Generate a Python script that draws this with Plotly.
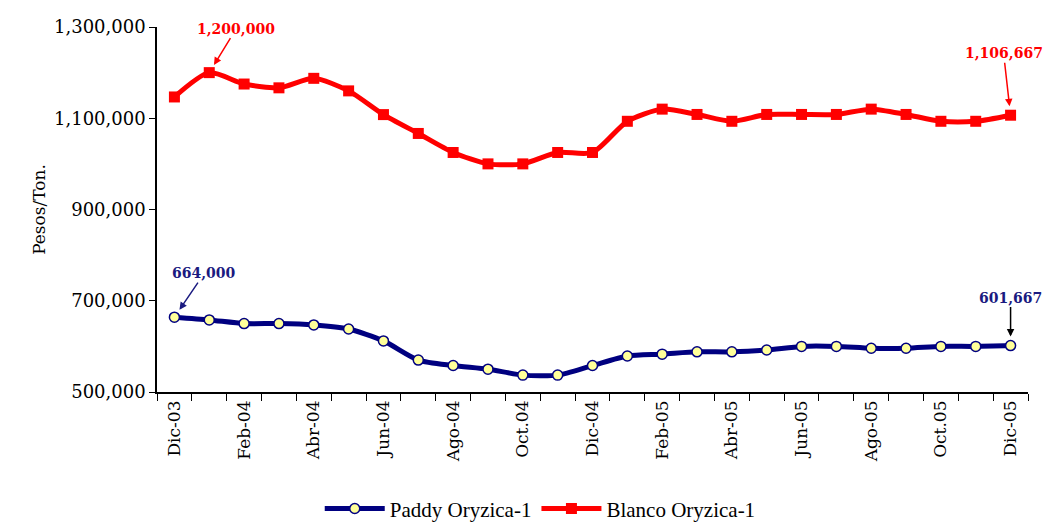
import plotly.graph_objects as go

# Monthly price series, Dic-03 .. Dic-05
months = ["Dic-03", "Ene-04", "Feb-04", "Mar-04", "Abr-04", "May-04", "Jun-04",
          "Jul-04", "Ago-04", "Sep-04", "Oct.04", "Nov-04", "Dic-04", "Ene-05",
          "Feb-05", "Mar-05", "Abr-05", "May-05", "Jun-05", "Jul-05", "Ago-05",
          "Sep-05", "Oct.05", "Nov-05", "Dic-05"]
paddy = [664000, 658000, 650000, 650000, 647000, 638000, 612000, 570000, 558000,
         550000, 537000, 537000, 558000, 579000, 583000, 588000, 588000, 592000,
         600000, 600000, 596000, 596000, 600000, 600000, 601667]
blanco = [1146667, 1200000, 1175000, 1166667, 1187500, 1160000, 1108000, 1066667,
          1025000, 1000000, 1000000, 1025000, 1025000, 1093333, 1120000, 1108333,
          1093333, 1108333, 1108333, 1108333, 1120000, 1108333, 1093333, 1093333,
          1106667]
y_ticks = [500000, 700000, 900000, 1100000, 1300000]

idx = list(range(len(months)))
serif = "DejaVu Serif"

fig = go.Figure()
fig.add_trace(go.Scatter(
    x=idx, y=paddy, name="Paddy Oryzica-1", mode="lines+markers",
    line=dict(color="#000080", width=5, shape="spline", smoothing=0.7),
    marker=dict(symbol="circle", size=10, color="#FFFF99",
                line=dict(color="#000080", width=1.5)),
))
fig.add_trace(go.Scatter(
    x=idx, y=blanco, name="Blanco Oryzica-1", mode="lines+markers",
    line=dict(color="#FF0000", width=5, shape="spline", smoothing=0.7),
    marker=dict(symbol="square", size=11, color="#FF0000"),
))

def label(i, series, text, color, ax, ay, arrow="same"):
    fig.add_annotation(
        x=i, y=series[i], ax=ax, ay=ay, showarrow=True, text=text,
        font=dict(family=serif, size=14, color=color, weight="bold"),
        arrowhead=2, arrowsize=1, arrowwidth=1.5, standoff=9,
        arrowcolor=color if arrow == "same" else arrow,
    )

last = len(months) - 1
label(1, blanco, "1,200,000", "#FF0000", 27, -44)
label(last, blanco, "1,106,667", "#FF0000", -7, -62)
label(0, paddy, "664,000", "#1A1A80", 30, -44)
label(last, paddy, "601,667", "#1A1A80", 0, -48, arrow="#000000")

fig.update_layout(
    width=1044, height=526,
    margin=dict(l=157, r=16, t=27, b=134, autoexpand=False),
    plot_bgcolor="white", paper_bgcolor="white",
    font=dict(family=serif, color="black"),
    showlegend=True,
    legend=dict(orientation="h", x=0.44, y=-0.32, xanchor="center", yanchor="middle",
                font=dict(family="Liberation Serif", size=21), itemwidth=60,
                traceorder="normal"),
)
fig.update_xaxes(
    range=[-0.5, len(months) - 0.5], automargin=False,
    tickmode="array", tickvals=idx[::2], ticktext=months[::2],
    tickangle=-90, ticks="", tickfont=dict(family=serif, size=17),
    minor=dict(tick0=-0.5, dtick=1, ticks="outside", ticklen=7, tickcolor="black"),
    showline=True, linecolor="black", linewidth=1.5, showgrid=False, zeroline=False,
)
fig.update_yaxes(
    range=[500000, 1300000], tickvals=y_ticks, tickformat=",d", automargin=False,
    ticks="outside", ticklen=6, tickcolor="black",
    tickfont=dict(family=serif, size=18),
    title=dict(text="Pesos/Ton.", font=dict(family=serif, size=17), standoff=4),
    showline=True, linecolor="black", linewidth=1.5, showgrid=False, zeroline=False,
)

fig.write_html("out.html", config={"displayModeBar": False},
               post_script="document.body.style.margin='0';")
